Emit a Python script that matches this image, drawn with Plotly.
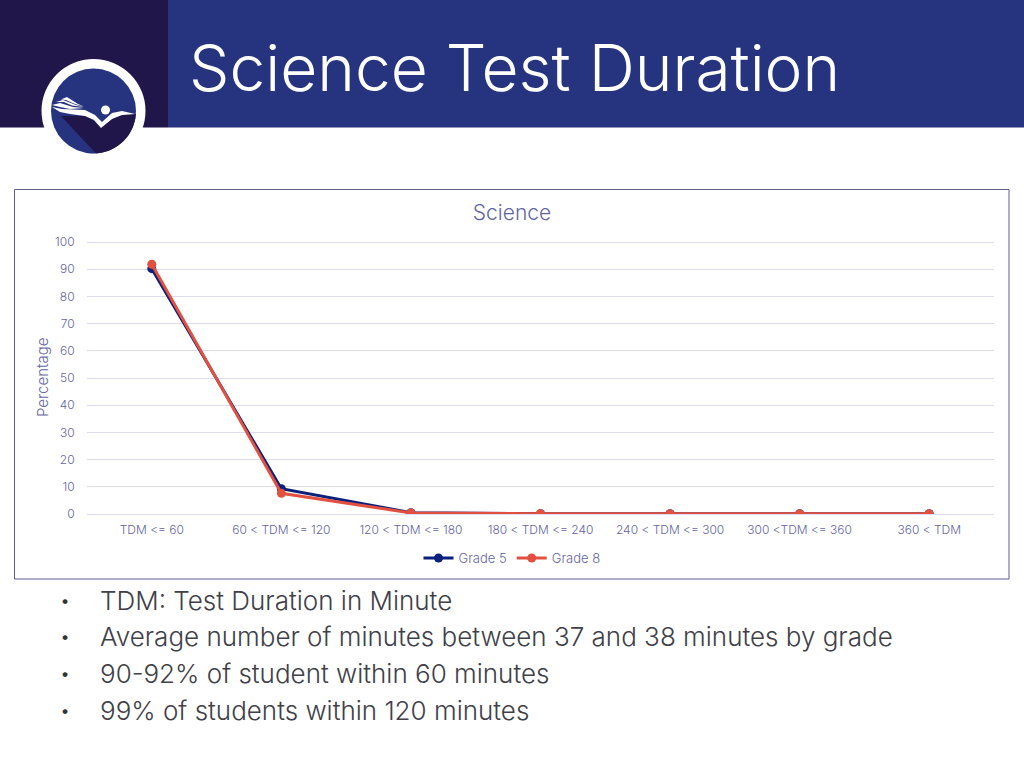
import math
import plotly.graph_objects as go

# 数据
categories = ["TDM <= 60", "60 < TDM <= 120", "120 < TDM <= 180", "180 < TDM <= 240",
              "240 < TDM <= 300", "300 <TDM <= 360", "360 < TDM"]
grade_5 = [90.2, 9.3, 0.5, 0.1, 0.1, 0.1, 0.1]
grade_8 = [91.8, 7.6, 0.4, 0.1, 0.1, 0.1, 0.1]
y_ticks = list(range(0, 101, 10))
bullets = ["TDM: Test Duration in Minute",
           "Average number of minutes between 37 and 38 minutes by grade",
           "90-92% of student within 60 minutes",
           "99% of students within 120 minutes"]

W, H = 1024, 768
FONT = "Inter"
TXT = "#6565a3"
GRID = "#dcdcf0"


def px(x, y):
    return f"{x / W:.5f} {1 - y / H:.5f}"


def path(points):
    return "M" + " L".join(px(x, y) for x, y in points) + " Z"


def rect(x0, y0, x1, y1, fill, line=None, layer="below"):
    return dict(type="rect", xref="paper", yref="paper", layer=layer,
                x0=x0 / W, x1=x1 / W, y0=1 - y0 / H, y1=1 - y1 / H,
                fillcolor=fill, line=dict(color=line or fill, width=1 if line else 0))


def circle(cx, cy, r, fill):
    return dict(type="circle", xref="paper", yref="paper", layer="above",
                x0=(cx - r) / W, x1=(cx + r) / W, y0=1 - (cy - r) / H, y1=1 - (cy + r) / H,
                fillcolor=fill, line_width=0)


def poly(points, fill):
    return dict(type="path", xref="paper", yref="paper", layer="above", path=path(points),
                fillcolor=fill, line_width=0)


# 徽标里深色部分的下半圆
cx, cy, r = 93.5, 111, 42.5
arc = [(cx + r * math.cos(math.radians(a)), cy + r * math.sin(math.radians(a)))
       for a in range(5, 105, 5)]
shadow = [(136, 114)] + arc + [(96, 153.5), (61, 116), (88, 116), (101, 127), (113, 116)]
body = [(52, 107), (62, 109), (85, 110), (95, 115), (102, 122), (112, 113), (122, 111),
        (135, 114), (122, 115), (112, 119), (101, 128), (94, 120), (85, 116), (70, 114), (60, 112)]
feather_1 = [(52, 105), (60, 103), (73, 107), (84, 108), (70, 109), (60, 107)]
feather_2 = [(56, 102), (63, 100), (76, 105), (84, 107), (72, 105.5), (64, 102)]
feather_3 = [(61, 99.5), (67, 97), (78, 104), (84, 106.5), (75, 104), (66, 100)]

shapes = [
    rect(0, 0, 168, 127.5, "#21164a"),
    rect(168, 0, 1024, 127.5, "#26337f"),
    rect(14.5, 189.5, 1009, 579, "rgba(0,0,0,0)", "#5f5c8f"),
    circle(cx, cy, 52, "white"),
    circle(cx, cy, r, "#26337f"),
    poly(shadow, "#21164a"),
    poly(body, "white"),
    poly(feather_1, "white"),
    poly(feather_2, "white"),
    poly(feather_3, "white"),
    circle(105.5, 110, 4.5, "white"),
]

annotations = [dict(text="Science Test Duration", xref="paper", yref="paper",
                    x=187 / W, y=1 - 67 / H, xanchor="left", yanchor="middle",
                    showarrow=False, font=dict(family=FONT, size=64, color="white", weight=300))]
for i, line in enumerate(bullets):
    y = 1 - (600 + i * 36.8) / H
    annotations.append(dict(text="•", xref="paper", yref="paper", x=65 / W, y=y,
                            xanchor="center", yanchor="middle", showarrow=False,
                            font=dict(family=FONT, size=18, color="#333333")))
    annotations.append(dict(text=line, xref="paper", yref="paper", x=97.5 / W, y=y,
                            xanchor="left", yanchor="middle", showarrow=False,
                            font=dict(family=FONT, size=26, color="#404048", weight=300)))

fig = go.Figure()
fig.add_trace(go.Scatter(x=categories, y=grade_5, name="Grade 5", mode="lines+markers",
                         line=dict(color="#0b1f7c", width=3), marker=dict(size=9, color="#0b1f7c")))
fig.add_trace(go.Scatter(x=categories, y=grade_8, name="Grade 8", mode="lines+markers",
                         line=dict(color="#e2513f", width=3), marker=dict(size=9, color="#e2513f")))

fig.update_layout(
    width=W, height=H, margin=dict(l=0, r=0, t=0, b=0),
    paper_bgcolor="white", plot_bgcolor="white",
    font=dict(family=FONT, color=TXT, size=12, weight=300),
    title=dict(text="Science", x=0.5, xanchor="center", y=1 - 213 / H, yanchor="middle",
               font=dict(family=FONT, size=21, color=TXT, weight=300)),
    showlegend=True,
    legend=dict(orientation="h", x=0.5, xanchor="center", y=1 - 558 / H, yanchor="middle",
                font=dict(size=13, color=TXT, weight=300), itemwidth=30),
    shapes=shapes, annotations=annotations,
)
fig.update_xaxes(domain=[87 / W, 994 / W], type="category", range=[-0.5, 6.5],
                 showgrid=False, showline=False, zeroline=False,
                 ticks="outside", ticklen=5, tickcolor="rgba(0,0,0,0)",
                 tickfont=dict(size=12, color=TXT, weight=300), automargin=False, anchor="y")
# 顶部留一点余量，否则 100 的网格线不显示
fig.update_yaxes(domain=[1 - 514 / H, 1 - 240.5 / H], range=[0, 100.55], tickvals=y_ticks,
                 gridcolor=GRID, gridwidth=1, zeroline=True, zerolinecolor=GRID, zerolinewidth=1,
                 showline=False, ticks="outside", ticklen=9, tickcolor="rgba(0,0,0,0)",
                 tickfont=dict(size=12, color=TXT, weight=300), automargin=False,
                 title=dict(text="Percentage", font=dict(size=15, color=TXT, weight=300), standoff=2))

fig.write_html("out.html", config={"displayModeBar": False},
               post_script="document.body.style.margin='0';")
